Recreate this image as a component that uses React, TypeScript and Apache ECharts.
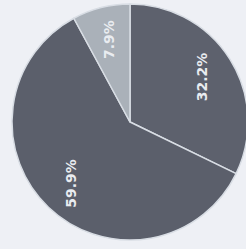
import React, { useEffect, useRef } from "react";
import * as echarts from "echarts";

const categories = ["A", "B", "C"];
const values = [32.2, 59.9, 7.9];
const labels = ["32.2%", "59.9%", "7.9%"];
const colors = ["#5d616d", "#5b5f6b", "#aab1b9"];

export default function App() {
  const ref = useRef<HTMLDivElement>(null);
  useEffect(() => {
    document.body.style.margin = "0";
    document.body.style.background = "#eef0f5";
    const chart = echarts.init(ref.current!, undefined, { renderer: "svg" });
    const data = categories.map((c, i) => ({
      name: c,
      value: values[i],
      label: { formatter: labels[i] },
      itemStyle: { color: colors[i] },
    }));
    chart.setOption({
      animation: false,
      backgroundColor: "#eef0f5",
      series: [
        {
          type: "pie",
          center: [130, 122],
          radius: [0, 118],
          startAngle: 90,
          clockwise: true,
          data,
          label: { show: false },
          labelLine: { show: false },
          itemStyle: { borderColor: "#d8dde4", borderWidth: 1.5 },
          silent: true,
        },
        {
          type: "pie",
          center: [130, 122],
          radius: [46, 118],
          startAngle: 90,
          clockwise: true,
          data: data.map((d) => ({ ...d, itemStyle: { color: "rgba(0,0,0,0)" } })),
          label: {
            show: true,
            position: "inside",
            rotate: 90,
            color: "#e9ecf0",
            fontSize: 14,
            fontWeight: "bold",
            fontFamily: "DejaVu Sans",
          },
          labelLine: { show: false },
          itemStyle: { borderWidth: 0 },
          silent: true,
        },
      ],
    });
    return () => chart.dispose();
  }, []);
  return (
    <div
      ref={ref}
      style={{ position: "fixed", left: 0, top: 0, width: 246, height: 249 }}
    />
  );
}
